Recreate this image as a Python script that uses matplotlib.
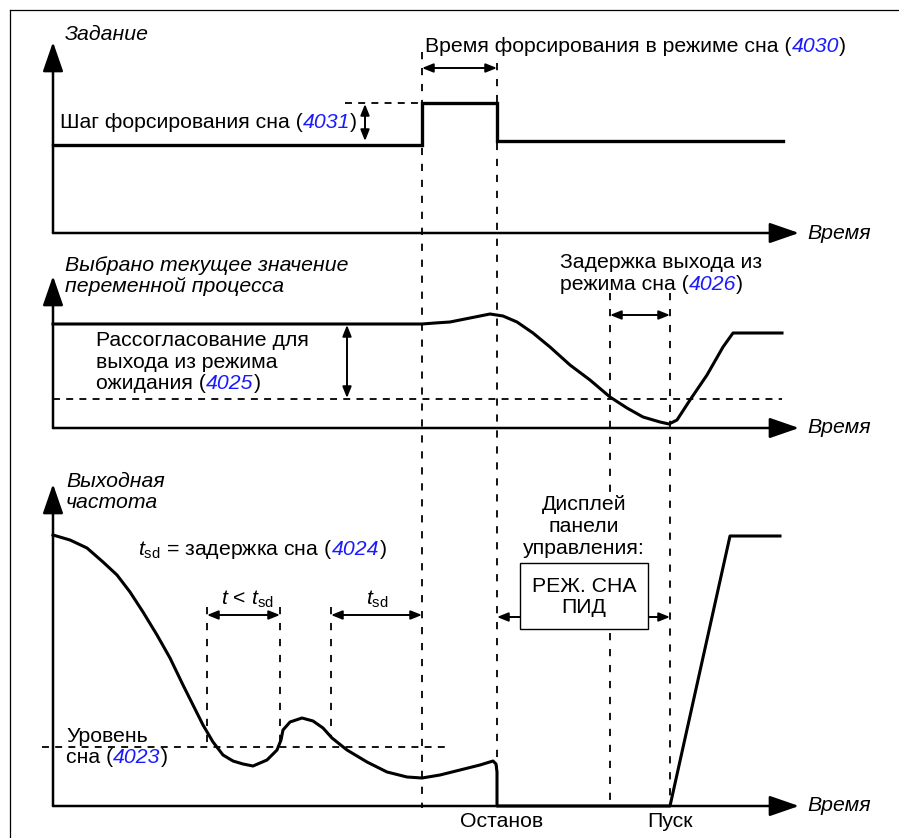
import matplotlib
matplotlib.use("Agg")
import matplotlib.pyplot as plt
from matplotlib.patches import FancyArrowPatch, Rectangle

plt.rcParams['font.family'] = ['Liberation Sans', 'DejaVu Sans']
plt.rcParams['mathtext.fontset'] = 'custom'
plt.rcParams['mathtext.rm'] = 'Liberation Sans'
plt.rcParams['mathtext.it'] = 'Liberation Sans:italic'
plt.rcParams['lines.scale_dashes'] = False

# ---------------- data (pixel-space diagram) ----------------
# Panel 1: reference (Задание)
ref_x = [53, 422, 422, 497, 497, 783]
ref_y = [145, 145, 103, 103, 141, 141]

# Panel 2: process actual value
pv_x = [53, 422, 435, 450, 470, 490, 503, 517, 533, 550, 570, 590, 610, 627, 643, 660, 669,
        677, 690, 707, 723, 733, 782]
pv_y = [324, 324, 323, 322, 318, 314, 316, 322, 333, 347, 365, 380, 397, 408, 417, 422, 424,
        420, 400, 375, 347, 333, 333]

# Panel 3: output frequency
fq_x = [53, 70, 87, 103, 117, 130, 143, 157, 170, 183, 193, 203, 213, 223, 233, 243, 253,
        267, 277, 281, 283, 290, 302, 313, 323, 332, 347, 367, 387, 407, 422, 440, 460,
        480, 493, 496, 497, 497, 670, 730, 780]
fq_y = [535, 540, 548, 562, 575, 592, 612, 635, 658, 685, 705, 725, 742, 755, 761, 764, 766,
        760, 750, 740, 730, 722, 718, 721, 728, 738, 750, 762, 772, 777, 778, 775, 770,
        765, 761, 764, 772, 806, 806, 536, 536]

# markers of time
t_boost_start, t_boost_end = 422, 497
t_wake_a, t_wake_b = 610, 670
t_sd_a, t_sd_b, t_sd_c = 207, 280, 331

BLUE = '#1a1aff'
FS = 15.3

fig = plt.figure(figsize=(8.99, 8.38), dpi=100)
ax = fig.add_axes([0, 0, 1, 1])
ax.set_xlim(0, 899)
ax.set_ylim(838, 0)
ax.axis('off')

# frame
ax.plot([10, 899], [10, 10], color='black', lw=0.9)
ax.plot([10, 10], [10, 838], color='black', lw=0.9)

def axis_arrow(x0, y0, x1, y1):
    a = FancyArrowPatch((x0, y0), (x1, y1), arrowstyle='-|>,head_length=1.3,head_width=0.45',
                        mutation_scale=14, lw=1.8, color='black', shrinkA=0, shrinkB=0)
    ax.add_patch(a)

def dbl(x0, y0, x1, y1):
    a = FancyArrowPatch((x0, y0), (x1, y1), arrowstyle='<|-|>,head_length=0.55,head_width=0.22',
                        mutation_scale=12, lw=1.4, color='black', shrinkA=0, shrinkB=0)
    ax.add_patch(a)

def sgl(x0, y0, x1, y1):
    a = FancyArrowPatch((x0, y0), (x1, y1), arrowstyle='-|>,head_length=0.55,head_width=0.22',
                        mutation_scale=12, lw=1.4, color='black', shrinkA=0, shrinkB=0)
    ax.add_patch(a)

VD = (0, (5.2, 6.3))
HD = (0, (5.0, 4.5))

def vdash(x, y0, y1):
    ax.plot([x, x], [y0, y1], color='black', lw=1.3, linestyle=VD)

def hdash(y, x0, x1):
    ax.plot([x0, x1], [y, y], color='black', lw=1.3, linestyle=HD)

# axes
for y_top, y_bot in [(42, 233), (276, 428), (484, 806)]:
    axis_arrow(53, y_bot, 53, y_top)
    axis_arrow(53, y_bot, 799, y_bot)

# vertical dashed markers
vdash(t_boost_start, 52, 808)
vdash(t_boost_end, 63, 808)
vdash(t_wake_a, 293, 494)
vdash(t_wake_a, 633, 806)
vdash(t_wake_b, 293, 806)
vdash(t_sd_a, 607, 747)
vdash(t_sd_b, 607, 745)
vdash(t_sd_c, 607, 738)

# horizontal dashed
hdash(103, 345, 422)
hdash(399, 53, 782)
hdash(747, 42, 445)

# curves
ax.plot(ref_x, ref_y, color='black', lw=2.4, solid_joinstyle='miter')
ax.plot(pv_x, pv_y, color='black', lw=2.2, solid_joinstyle='round')
ax.plot(fq_x, fq_y, color='black', lw=2.2, solid_joinstyle='round')

# dimension arrows
dbl(365, 104, 365, 141)
dbl(t_boost_start, 68, t_boost_end, 68)
dbl(347, 325, 347, 398)
dbl(t_wake_a, 315, t_wake_b, 315)
dbl(t_sd_a, 615, t_sd_b, 615)
dbl(t_sd_c, 615, t_boost_start, 615)
sgl(520, 617, t_boost_end, 617)
sgl(648, 617, t_wake_b, 617)

# box
ax.add_patch(Rectangle((520, 563), 128, 66, facecolor='white', edgecolor='black', lw=1.0, zorder=5))

fig.canvas.draw()
renderer = fig.canvas.get_renderer()

def seq(x, y, parts, fs=FS):
    for s, col, st in parts:
        t = ax.text(x, y, s, color=col, style=st, fontsize=fs, ha='left', va='center', zorder=6)
        bb = t.get_window_extent(renderer)
        x += bb.width

def txt(x, y, s, ha='left', st='normal', fs=FS):
    ax.text(x, y, s, ha=ha, va='center', style=st, fontsize=fs, zorder=6)

K = 'black'
txt(65, 35, 'Задание', st='italic')
seq(425, 47, [('Время форсирования в режиме сна (', K, 'normal'), ('4030', BLUE, 'italic'), (')', K, 'normal')])
seq(60, 123, [('Шаг форсирования сна (', K, 'normal'), ('4031', BLUE, 'italic'), (')', K, 'normal')])
for yy in (233, 427, 805):
    txt(807, yy, 'Время', st='italic')

txt(65, 265, 'Выбрано текущее значение', st='italic')
txt(65, 286, 'переменной процесса', st='italic')
txt(560, 262, 'Задержка выхода из')
seq(560, 284, [('режима сна (', K, 'normal'), ('4026', BLUE, 'italic'), (')', K, 'normal')])
txt(96, 340, 'Рассогласование для')
txt(96, 362, 'выхода из режима')
seq(96, 383, [('ожидания (', K, 'normal'), ('4025', BLUE, 'italic'), (')', K, 'normal')])

txt(66, 481, 'Выходная', st='italic')
txt(66, 502, 'частота', st='italic')
seq(138, 549, [(r'$t_{\mathrm{sd}}$ = задержка сна (', K, 'normal'), ('4024', BLUE, 'italic'), (')', K, 'normal')])
txt(221, 599, r'$t$ < $t_{\mathrm{sd}}$')
txt(366, 599, r'$t_{\mathrm{sd}}$')
txt(66, 736, 'Уровень')
seq(66, 757, [('сна (', K, 'normal'), ('4023', BLUE, 'italic'), (')', K, 'normal')])

txt(584, 504, 'Дисплей', ha='center')
txt(584, 526, 'панели', ha='center')
txt(584, 548, 'управления:', ha='center')
txt(584, 586, 'РЕЖ. СНА', ha='center')
txt(584, 607, 'ПИД', ha='center')
txt(502, 821, 'Останов', ha='center')
txt(670, 821, 'Пуск', ha='center')

fig.savefig('out.png', dpi=100)
